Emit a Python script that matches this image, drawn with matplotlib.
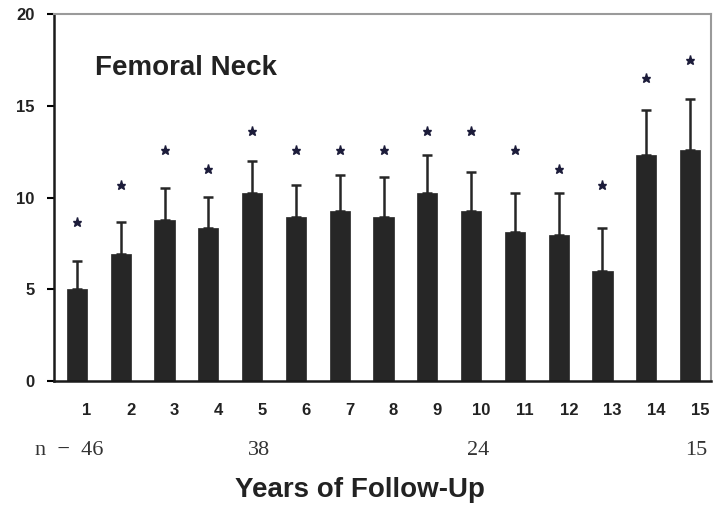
import numpy as np
import matplotlib.pyplot as plt
from matplotlib.transforms import blended_transform_factory

# percent change in femoral neck BMD by year of follow-up
years = np.arange(1, 16)
mean_change = [5.0, 6.9, 8.8, 8.35, 10.25, 8.95, 9.25, 8.95, 10.25, 9.25, 8.1, 7.95, 6.0, 12.3, 12.6]
err_upper = [6.55, 8.65, 10.5, 10.05, 12.0, 10.7, 11.25, 11.1, 12.3, 11.4, 10.25, 10.25, 8.35, 14.75, 15.35]
star_height = [8.65, 10.7, 12.6, 11.55, 13.6, 12.6, 12.6, 12.6, 13.6, 13.6, 12.6, 11.55, 10.7, 16.5, 17.5]

n_years = [1, 5, 10, 15]
n_labels = ['n  \u2212  46', '38', '24', '15']

dark = '#262626'

fig = plt.figure(figsize=(7.19, 5.07), dpi=100)
ax = fig.add_axes([0.0751, 0.2485, 0.9139, 0.7239])

yerr = np.array(err_upper) - np.array(mean_change)
ax.bar(years, mean_change, width=0.46, color=dark, edgecolor=dark, linewidth=0.5, zorder=2)
ax.errorbar(years, mean_change, yerr=[np.zeros_like(yerr), yerr], fmt='none',
            ecolor=dark, elinewidth=1.8, capsize=3.5, capthick=1.8, zorder=1)
ax.plot(years, star_height, linestyle='none', marker='*', markersize=6.5,
        color='#1c1c3a', zorder=3)

ax.set_xlim(0.475, 15.48)
ax.set_ylim(0, 20)
ax.set_yticks([0, 5, 10, 15, 20])
ax.set_yticklabels(['0', '5', '10', '15', '20'], fontsize=12, fontweight='bold',
                   family='Liberation Sans', color='#222222')
ax.tick_params(axis='y', length=5, width=1.5, pad=9, direction='out')

# year labels sit a little right of each bar
ax.set_xticks(years + 0.23)
ax.set_xticklabels([str(y) for y in years], fontsize=12, fontweight='bold',
                   family='Liberation Sans', color='#222222')
ax.tick_params(axis='x', length=0, pad=16)

for side in ['left', 'bottom']:
    ax.spines[side].set_color('#1a1a1a')
    ax.spines[side].set_linewidth(1.8)
for side in ['top', 'right']:
    ax.spines[side].set_color('#9a9a9a')
    ax.spines[side].set_linewidth(1.5)

ax.text(0.062, 0.853, 'Femoral Neck', transform=ax.transAxes, fontsize=20,
        fontweight='bold', family='Liberation Sans', color='#222222', va='center')

# sample sizes below the year labels
trans = blended_transform_factory(ax.transData, ax.transAxes)
for yr, lab in zip(n_years, n_labels):
    if lab.startswith('n'):
        ax.text(yr + 0.6, -0.188, lab, transform=trans, ha='right', va='center',
                fontsize=16, family='Liberation Serif', color='#333333')
    else:
        ax.text(yr + 0.15, -0.188, lab, transform=trans, ha='center', va='center',
                fontsize=16, family='Liberation Serif', color='#333333')

fig.text(0.5, 0.033, 'Years of Follow-Up', ha='center', va='center', fontsize=20,
         fontweight='bold', family='Liberation Sans', color='#222222')

fig.savefig('out.png', dpi=100)
